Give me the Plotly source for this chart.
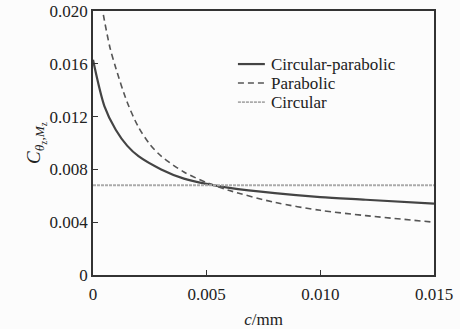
import plotly.graph_objects as go

c_cp = [0, 0.0005, 0.001, 0.0015, 0.002, 0.003, 0.004, 0.005, 0.006, 0.008, 0.010, 0.012, 0.015]
v_cp = [0.0163, 0.0128, 0.0110, 0.0098, 0.0090, 0.0080, 0.0073, 0.0069, 0.0066, 0.0062, 0.0059, 0.0057, 0.0054]

c_p = [0.0003, 0.0005, 0.00075, 0.001, 0.0015, 0.002, 0.0025, 0.003, 0.004, 0.005, 0.006, 0.008, 0.010, 0.012, 0.015]
v_p = [0.0212, 0.0193, 0.0172, 0.0157, 0.0131, 0.0112, 0.0099, 0.0090, 0.0078, 0.0070, 0.0064, 0.0055, 0.0049, 0.0045, 0.0040]

c_c = [0, 0.015]
v_c = [0.0068, 0.0068]

names = ["Circular-parabolic", "Parabolic", "Circular"]
x_ticks = [0, 0.005, 0.010, 0.015]
x_labels = ["0", "0.005", "0.010", "0.015"]
y_ticks = [0, 0.004, 0.008, 0.012, 0.016, 0.020]
y_labels = ["0", "0.004", "0.008", "0.012", "0.016", "0.020"]

font = "Liberation Serif, Times New Roman, DejaVu Serif, serif"
styles = [
    dict(color="#444444", width=2.2),
    dict(color="#555555", width=1.6, dash="6px,4px"),
    dict(color="#aaaaaa", width=1.8, dash="3px,1px"),
]

fig = go.Figure()
fig.add_trace(go.Scatter(x=c_cp, y=v_cp, mode="lines", name=names[0], showlegend=False,
                         line=dict(**styles[0], shape="spline", smoothing=0.8)))
fig.add_trace(go.Scatter(x=c_p, y=v_p, mode="lines", name=names[1], showlegend=False,
                         line=dict(**styles[1], shape="spline", smoothing=0.8)))
fig.add_trace(go.Scatter(x=c_c, y=v_c, mode="lines", name=names[2], showlegend=False,
                         line=dict(**styles[2])))

# legend drawn manually to match compact spacing
rows = [0.799, 0.727, 0.655]
for name, st, yy in zip(names, styles, rows):
    fig.add_shape(type="line", xref="paper", yref="paper", x0=0.425, x1=0.504, y0=yy, y1=yy,
                  line=st)
    fig.add_annotation(xref="paper", yref="paper", x=0.516, y=yy, text=name, showarrow=False,
                       xanchor="left", yanchor="middle",
                       font=dict(family=font, size=17, color="#222222"))

fig.update_layout(
    width=460, height=329,
    margin=dict(l=93, r=26, t=11, b=54),
    paper_bgcolor="#fcfcfc", plot_bgcolor="#fcfcfc",
    font=dict(family=font, size=17, color="#222222"),
    showlegend=False,
    xaxis=dict(range=[0, 0.015], tickvals=x_ticks, ticktext=x_labels, automargin=False,
               ticks="inside", ticklen=5, tickcolor="#333333", ticklabelstandoff=3,
               showline=True, linecolor="#333333", linewidth=1.5, mirror=True,
               showgrid=False, zeroline=False,
               title=dict(text="<i>c</i>/mm", standoff=12, font=dict(family=font, size=17))),
    yaxis=dict(range=[0, 0.020], tickvals=y_ticks, ticktext=y_labels, automargin=False,
               ticks="inside", ticklen=5, tickcolor="#333333",
               showline=True, linecolor="#333333", linewidth=1.5, mirror=True,
               showgrid=False, zeroline=False,
               title=dict(text="<i>C</i><sub><i>θ</i><sub>z</sub><i>,M</i><sub>z</sub></sub>",
                          standoff=4, font=dict(family=font, size=19))),
)

fig.write_html("out.html")
